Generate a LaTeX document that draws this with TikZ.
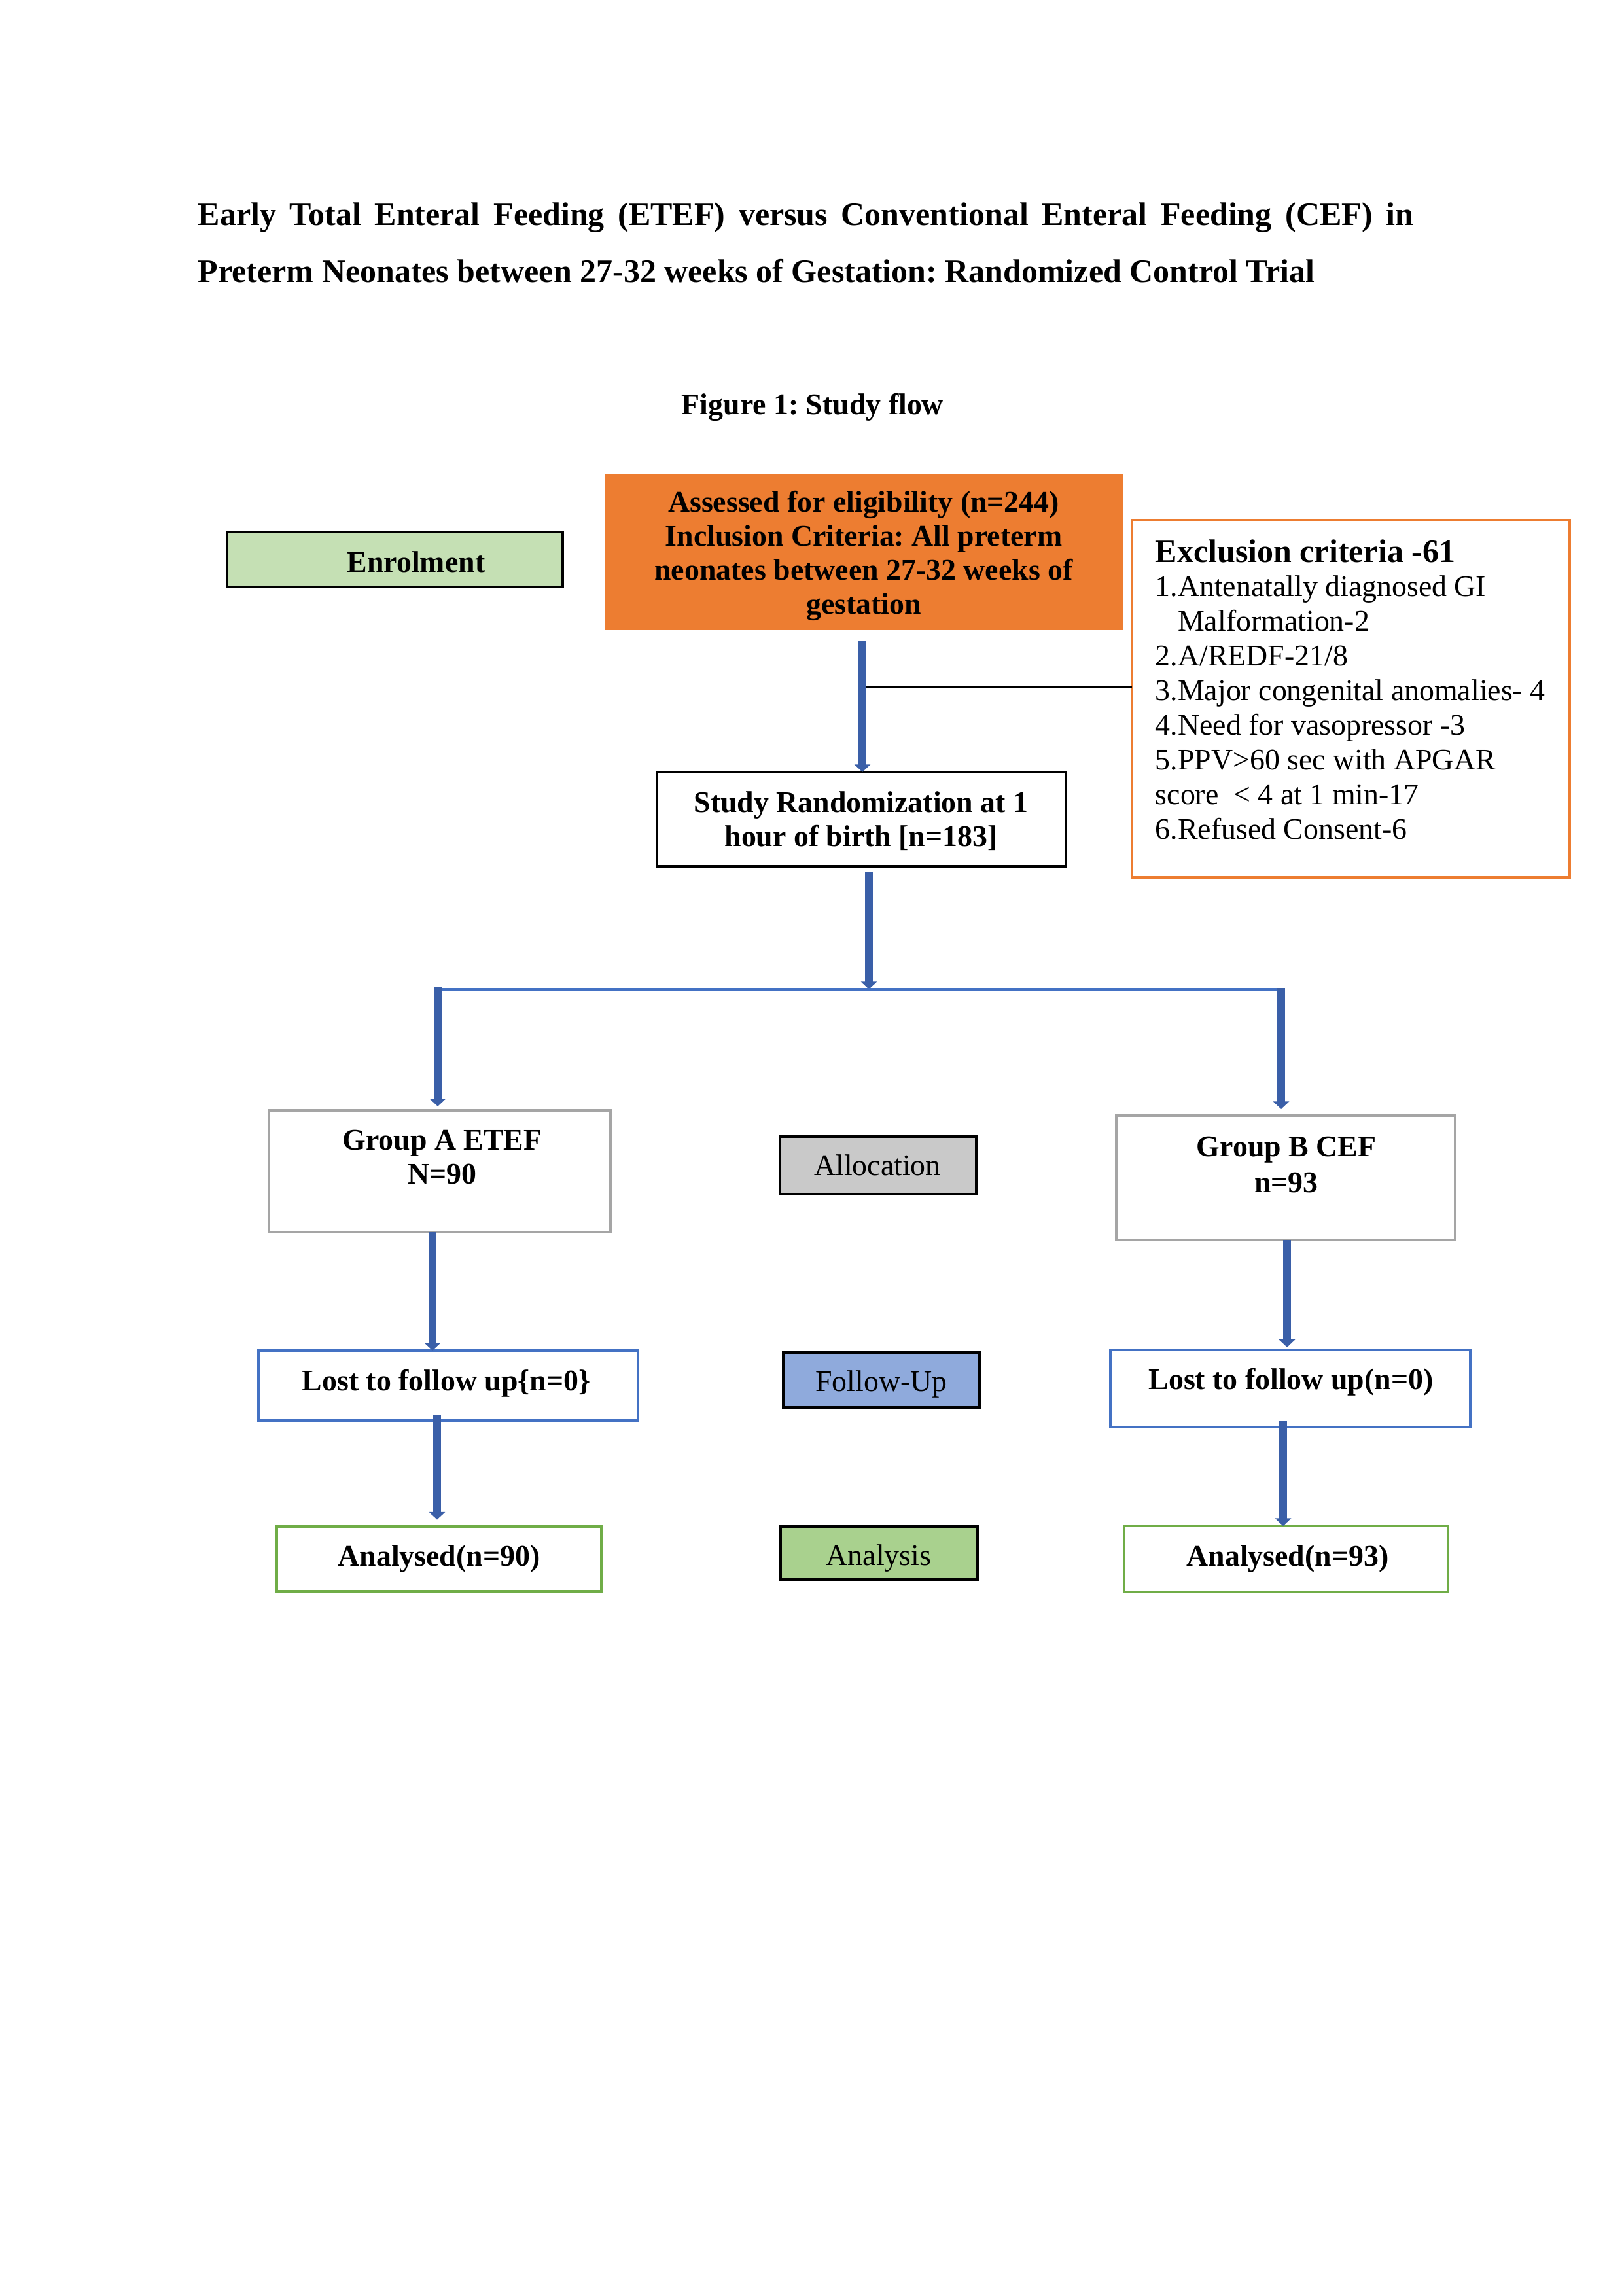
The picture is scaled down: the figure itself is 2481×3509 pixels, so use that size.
\documentclass[tikz,border=0pt]{standalone}
\usepackage{fontspec}
\setmainfont{Liberation Serif}
\usetikzlibrary{arrows.meta}
\definecolor{orangeF}{HTML}{ED7D31}
\definecolor{enrolG}{HTML}{C5E0B4}
\definecolor{allocG}{HTML}{C9C9C9}
\definecolor{followB}{HTML}{8FAADC}
\definecolor{analysisG}{HTML}{A9D18E}
\definecolor{boxBlue}{HTML}{4472C4}
\definecolor{boxGreen}{HTML}{70AD47}
\definecolor{boxGray}{HTML}{A5A5A5}
\definecolor{arrowBlue}{HTML}{3A5FA8}
\definecolor{lineBlue}{HTML}{4472C4}
\frenchspacing
\begin{document}
\begin{tikzpicture}[x=0.24pt,y=-0.24pt,
  box/.style={draw, line width=0.8pt, inner sep=0pt, outer sep=0pt},
  txt/.style={inner sep=0pt, anchor=base, font=\fontsize{11}{12.5}\selectfont},
  btxt/.style={txt, font=\fontsize{11}{12.5}\selectfont\bfseries},
  bigarrow/.style={draw=arrowBlue, line width=2.7pt, -{Triangle[width=5.8pt,length=2.8pt]}},
  hline/.style={draw=lineBlue, line width=0.8pt},
]
\useasboundingbox (0,0) rectangle (2481,3509);

% titles
\node[inner sep=0pt, anchor=base west, font=\fontsize{12}{14}\selectfont\bfseries] (t1) at (302,345)
  {\makebox[445.7pt][s]{Early Total Enteral Feeding (ETEF) versus Conventional Enteral Feeding (CEF) in}};
\node[inner sep=0pt, anchor=base west, font=\fontsize{12}{14}\selectfont\bfseries] (t2) at (302,432)
  {Preterm Neonates between 27-32 weeks of Gestation: Randomized Control Trial};
\node[inner sep=0pt, anchor=base, font=\fontsize{11}{13}\selectfont\bfseries] (fig) at (1242,634)
  {Figure 1: Study flow};

% enrolment
\node[box, fill=enrolG, minimum width=123.1pt, minimum height=20.2pt] (enrol) at (603.5,855) {};
\node[btxt] (enrolt) at (636,874) {Enrolment};

% eligibility
\node[box, draw=none, fill=orangeF, minimum width=189.8pt, minimum height=57.4pt] (elig) at (1320.5,843.5) {};
\node[btxt] (eligt) at (1320,782) {\begin{tabular}[t]{@{}c@{}}Assessed for eligibility (n=244)\\
  Inclusion Criteria: All preterm\\ neonates between 27-32 weeks of\\ gestation\end{tabular}};

% exclusion
\node[box, draw=orangeF, line width=1pt, minimum width=160.6pt, minimum height=131pt] (excl) at (2064.5,1068) {};
\node[inner sep=0pt, anchor=base west, font=\fontsize{11}{12.7}\selectfont] (exclt) at (1765,859)
  {\begin{tabular}[t]{@{}l@{}}{\fontsize{12}{12}\selectfont\bfseries Exclusion criteria -61}\\
  1.Antenatally diagnosed GI\\
  \hspace*{8.25pt}Malformation-2\\
  2.A/REDF-21/8\\
  3.Major congenital anomalies- 4\\
  4.Need for vasopressor -3\\
  5.PPV>60 sec with APGAR\\
  score\ \ \textless\ 4 at 1 min-17\\
  6.Refused Consent-6\end{tabular}};

% randomization
\node[box, minimum width=150pt, minimum height=34.6pt] (rand) at (1316.5,1252) {};
\node[btxt] (randt) at (1316,1241) {\begin{tabular}[t]{@{}c@{}}Study Randomization at 1\\ hour of birth [n=183]\end{tabular}};

% groups
\node[box, draw=boxGray, line width=1pt, minimum width=125.3pt, minimum height=44.6pt] (ga) at (672,1790) {};
\node[btxt] (gat) at (676,1757) {\begin{tabular}[t]{@{}c@{}}Group A ETEF\\ N=90\end{tabular}};
\node[box, fill=allocG, minimum width=72pt, minimum height=21.1pt] (alloc) at (1342,1781) {};
\node[txt] (alloct) at (1341,1796) {Allocation};
\node[box, draw=boxGray, line width=1pt, minimum width=124.3pt, minimum height=45.6pt] (gb) at (1965,1800) {};
\node[btxt] (gbt) at (1966,1767) {\begin{tabular}[t]{@{}c@{}}Group B CEF\\[0.7pt] n=93\end{tabular}};

% follow-up
\node[box, draw=boxBlue, line width=1pt, minimum width=139.2pt, minimum height=25.7pt] (la) at (685,2117.5) {};
\node[btxt] (lat) at (682,2125) {Lost to follow up\{n=0\}};
\node[box, fill=followB, minimum width=72pt, minimum height=20.2pt] (follow) at (1347,2109) {};
\node[txt] (followt) at (1347,2126) {Follow-Up};
\node[box, draw=boxBlue, line width=1pt, minimum width=132pt, minimum height=28.3pt] (lb) at (1972,2122) {};
\node[btxt] (lbt) at (1973,2123) {Lost to follow up(n=0)};

% analysis
\node[box, draw=boxGreen, line width=1pt, minimum width=119pt, minimum height=23.8pt] (ana) at (671,2382.5) {};
\node[btxt] (anat) at (671,2393) {Analysed(n=90)};
\node[box, fill=analysisG, minimum width=72.2pt, minimum height=19.4pt] (analysis) at (1343.5,2373.5) {};
\node[txt] (analysist) at (1343,2392) {Analysis};
\node[box, draw=boxGreen, line width=1pt, minimum width=118.8pt, minimum height=24.2pt] (anb) at (1965.5,2382.5) {};
\node[btxt] (anbt) at (1968,2393) {Analysed(n=93)};

% connectors
\coordinate (ej) at (1318,1050);
\draw[line width=0.7pt] (ej) -- (ej -| excl.west);
\coordinate (a1s) at (1318,979);
\draw[bigarrow] (a1s) -- (a1s |- rand.north);
\coordinate (a2s) at (1328,1332);
\coordinate (split) at (1328,1512);
\draw[bigarrow] (a2s) -- (split);
\coordinate (hl) at (669,1508);
\coordinate (hr) at (1958,1510);
\draw[hline] (hl |- split) -- (hr |- split);
\draw[bigarrow, shorten >=1.5pt] (hl) -- (hl |- ga.north);
\draw[bigarrow, shorten >=2.4pt] (hr) -- (hr |- gb.north);
\coordinate (a3) at (661,1883);
\draw[bigarrow] (a3) -- (a3 |- la.north);
\coordinate (a4) at (1967,1895);
\draw[bigarrow, shorten >=1pt] (a4) -- (a4 |- lb.north);
\coordinate (a5) at (668,2162);
\draw[bigarrow, shorten >=2.5pt] (a5) -- (a5 |- ana.north);
\coordinate (a6) at (1961,2171);
\draw[bigarrow] (a6) -- (a6 |- anb.north);
\end{tikzpicture}
\end{document}
